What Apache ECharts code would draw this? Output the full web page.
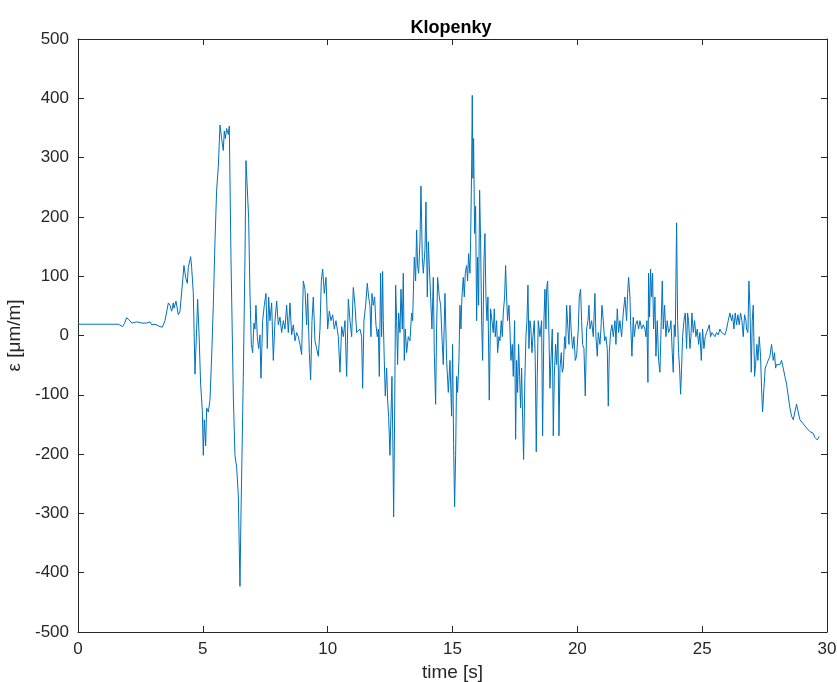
<!DOCTYPE html>
<html>
<head>
<meta charset="utf-8">
<script src="https://cdn.jsdelivr.net/npm/echarts@6/dist/echarts.min.js"></script>
<style>
html,body{margin:0;padding:0;background:#fff;}
#chart{width:837px;height:682px;}
</style>
</head>
<body>
<div id="chart"></div>
<script>
const chartTitle = "Klopenky";
const xAxisName = "time [s]";
const yAxisName = "ε [μm/m]";
const xTicks = [0, 5, 10, 15, 20, 25, 30];
const yTicks = [-500, -400, -300, -200, -100, 0, 100, 200, 300, 400, 500];

const times = [
0,1.616,1.683,1.789,1.856,1.950,2.056,2.150,2.350,2.550,2.751,2.884,2.951,3.085,3.285,3.378,3.485,3.619,3.685,3.752,
3.818,3.844,3.924,4.018,4.085,4.151,4.245,4.311,4.378,4.418,4.512,4.552,4.619,4.685,4.752,4.792,4.846,4.912,4.979,5.019,
5.059,5.113,5.153,5.220,5.286,5.353,5.420,5.486,5.553,5.620,5.687,5.753,5.820,5.860,5.900,5.954,6.020,6.060,6.127,6.221,
6.287,6.354,6.421,6.488,6.528,6.621,6.688,6.728,6.781,6.835,6.888,6.942,6.995,7.048,7.088,7.128,7.182,7.235,7.289,7.329,
7.396,7.462,7.529,7.583,7.636,7.689,
7.756,7.823,7.890,7.957,8.023,8.090,8.157,8.224,8.290,8.357,8.424,8.491,8.557,8.624,8.691,8.758,8.824,8.891,8.958,9.025,
9.091,9.158,9.198,9.265,9.318,9.372,9.425,9.492,9.559,9.626,9.692,9.746,9.799,9.866,9.933,10.000,10.066,10.133,10.200,10.266,
10.333,10.427,10.493,10.560,10.627,10.694,10.760,10.827,10.894,10.961,11.027,11.094,11.161,
11.227,11.294,11.360,11.400,11.454,11.521,11.587,11.641,11.694,11.734,11.774,11.828,11.881,11.934,11.988,12.028,12.068,12.121,12.161,12.201,
12.228,12.268,12.308,12.362,12.402,12.442,12.495,12.535,12.575,12.615,12.642,12.682,12.722,12.762,12.802,12.842,12.896,12.936,12.989,13.029,
13.069,13.109,13.163,13.229,13.296,13.363,13.403,13.470,13.523,13.563,13.603,13.643,13.697,13.737,13.790,13.830,13.897,13.937,13.991,14.031,
14.071,14.124,14.177,14.231,14.271,14.324,14.364,14.404,14.471,14.525,14.578,14.631,14.698,14.765,14.832,14.898,
14.964,15.004,15.044,15.084,15.125,15.165,15.205,15.258,15.298,15.338,15.378,15.432,15.472,15.512,15.565,15.605,15.645,15.699,15.725,15.765,
15.792,15.819,15.845,15.885,15.926,15.966,16.006,16.046,16.086,16.126,16.166,16.206,16.259,16.299,16.339,16.380,16.420,16.473,16.526,16.580,
16.633,16.673,16.713,16.767,16.807,16.860,16.900,16.954,16.994,17.034,17.087,17.127,17.167,17.207,17.261,17.301,17.341,17.394,17.434,17.488,
17.528,17.568,17.608,17.648,17.688,17.728,17.768,17.808,17.848,17.901,17.941,17.982,18.022,18.062,18.102,18.142,18.182,18.222,18.275,18.315,
18.355,18.395,18.435,18.502,
18.569,18.609,18.663,18.703,18.743,18.770,18.810,18.850,18.903,18.943,18.997,19.037,19.077,19.130,19.170,19.224,19.264,19.304,19.357,19.397,
19.437,19.491,19.531,19.571,19.624,19.664,19.704,19.758,19.811,19.864,19.918,19.971,20.038,20.078,20.131,20.171,20.211,20.265,20.318,20.372,
20.425,20.465,20.505,20.572,20.639,20.705,20.745,20.799,20.839,20.906,20.946,20.986,21.039,21.093,21.146,21.199,21.239,21.280,21.333,21.386,
21.440,21.507,21.546,21.600,21.653,21.707,21.773,21.840,21.907,21.974,22.014,22.054,22.107,
22.133,22.187,22.240,22.280,22.334,22.400,22.454,22.507,22.574,22.641,22.707,22.747,22.787,22.827,22.854,22.894,22.934,22.974,23.014,23.054,
23.108,23.148,23.201,23.255,23.308,23.362,23.402,23.442,23.495,23.548,23.602,23.655,23.709,23.749,23.802,23.842,23.882,23.922,23.976,24.016,
24.056,24.096,24.136,24.176,24.216,24.270,24.323,24.376,24.416,24.456,24.510,24.550,24.590,24.643,24.697,24.750,24.804,24.857,24.910,24.964,
25.017,25.071,25.124,25.177,25.231,25.284,25.337,25.391,25.444,25.511,25.578,25.645,25.711,
25.777,25.844,25.911,25.978,26.044,26.111,26.178,26.218,26.271,26.325,26.378,26.431,26.485,26.538,26.592,26.645,26.698,26.752,26.778,26.832,
26.872,26.912,26.966,27.006,27.046,27.099,27.139,27.193,27.233,27.286,27.339,27.379,27.420,27.473,27.526,27.580,27.646,27.713,27.780,27.847,
27.900,27.940,27.980,28.047,28.114,28.180,28.247,28.314,28.381,28.447,28.514,28.581,28.648,28.714,28.781,28.848,28.915,28.981,29.048,29.115,
29.182,29.248,29.315,29.382,29.449,29.515,29.609,29.689
];

const strain = [
19,19,17,15,20,30,26,21,23,21,21,23,18,19,15,14,25,55,51,41,
55,46,58,35,41,39,118,98,88,115,133,115,71,-65,11,61,5,-82,-126,-202,
-142,-186,-122,-129,-109,-35,51,158,245,285,355,332,312,345,332,349,339,353,132,-102,
-202,-222,-269,-423,-303,-69,132,295,292,198,71,-15,-29,21,11,51,-2,-22,1,-72,
25,51,71,-22,65,25,
55,-42,25,58,18,31,5,25,11,51,5,55,1,18,-9,5,-2,-15,-32,92,
78,18,71,-29,-75,25,65,-9,-22,-35,11,92,112,71,98,11,41,25,35,11,
25,-2,-62,15,-2,25,-69,61,25,-2,81,51,5,
5,11,-2,-89,25,51,88,65,51,-2,71,51,65,18,-2,11,-69,105,-2,108,
25,-42,-102,-55,-109,-136,-202,-136,-69,-196,-306,-136,85,25,-49,38,5,78,11,105,
-42,11,-29,-2,-9,38,25,132,92,178,118,105,158,252,132,105,145,225,65,158,
118,65,11,98,-29,-116,11,98,65,51,-2,-49,71,-42,-96,-42,
-136,-15,-182,-289,-202,-69,-96,-42,51,11,65,98,65,105,118,92,138,105,158,279,
405,265,332,172,218,25,132,51,245,158,25,-42,125,172,65,25,65,-109,45,25,
5,45,-2,25,-29,-2,-9,25,-2,38,65,118,65,25,51,11,-42,-15,-69,25,
-175,-42,-96,-15,-69,-122,-55,-136,-209,-69,-2,25,85,-22,25,11,-29,-2,25,-42,
-196,-69,25,-2,
25,-169,25,78,11,78,92,31,-89,-42,11,-169,-69,-15,-49,5,-169,-55,-29,-62,
-55,-2,-22,51,11,-15,51,5,-22,-2,-42,-35,11,65,78,25,-15,-22,-102,11,
25,51,11,25,-2,71,-2,-35,5,-15,11,51,25,-9,-2,-22,-119,-29,5,18,
-2,25,-15,45,5,25,-2,38,65,25,71,98,65,
25,-35,31,-2,18,25,11,25,11,18,11,-2,25,-79,105,31,112,65,105,11,
65,-35,25,-42,-62,25,92,11,51,-2,25,5,11,25,-29,-62,18,-2,190,25,
-29,-55,-99,-55,-2,25,38,-22,38,25,-22,-2,38,5,25,-2,11,-15,5,-42,
11,-22,-2,5,11,18,-2,5,8,-2,5,1,11,
5,8,1,11,25,38,25,35,11,38,18,35,18,38,25,-2,35,25,11,5,
92,51,-62,25,51,-69,-49,-15,-42,-2,-35,-89,-129,-89,-55,-49,-42,-35,-15,-42,
-29,-55,-49,-49,-49,-42,-55,-69,-82,-102,-122,-136,-142,-129,-116,-129,-142,-142,-149,-149,
-156,-156,-162,-165,-165,-172,-176,-170
];

const seriesData = times.map((t, i) => [t, strain[i]]);

const textColor = '#262626';
const fontFam = 'Helvetica, "Liberation Sans", Arial, sans-serif';

function frameAxis(extra) {
  return Object.assign({
    type: 'value',
    axisLine: {show: true, onZero: false, lineStyle: {color: textColor, width: 1}},
    axisTick: {show: true, inside: true, length: 6, lineStyle: {color: textColor, width: 1}},
    splitLine: {show: false}
  }, extra);
}

const chart = echarts.init(document.getElementById('chart'), null, {renderer: 'canvas'});
chart.setOption({
  animation: false,
  backgroundColor: '#ffffff',
  title: {
    text: chartTitle,
    left: 446, top: 14, textAlign: 'center',
    textStyle: {fontFamily: fontFam, fontWeight: 'bold', fontSize: 18, color: '#000'}
  },
  grid: {left: 78, right: 10, top: 39, bottom: 50, containLabel: false, outerBoundsMode: 'none'},
  xAxis: [
    frameAxis({
      min: 0, max: 30, interval: 5, position: 'bottom',
      name: xAxisName, nameLocation: 'middle', nameGap: 30,
      nameTextStyle: {fontFamily: fontFam, fontSize: 19, color: textColor},
      axisLabel: {fontFamily: fontFam, fontSize: 17, color: textColor, margin: 9,
        formatter: v => xTicks.includes(v) ? String(v) : ''}
    }),
    frameAxis({
      min: 0, max: 30, interval: 5, position: 'top',
      axisLabel: {show: false}
    })
  ],
  yAxis: [
    frameAxis({
      min: -500, max: 500, interval: 100, position: 'left',
      name: yAxisName, nameLocation: 'middle', nameGap: 48, nameRotate: 90,
      nameTextStyle: {fontFamily: fontFam, fontSize: 19, color: textColor},
      axisLabel: {fontFamily: fontFam, fontSize: 17, color: textColor, margin: 9,
        formatter: v => yTicks.includes(v) ? String(v) : ''}
    }),
    frameAxis({
      min: -500, max: 500, interval: 100, position: 'right',
      axisLabel: {show: false}
    })
  ],
  series: [{
    type: 'line',
    xAxisIndex: 0, yAxisIndex: 0,
    data: seriesData,
    showSymbol: false,
    symbol: 'none',
    lineStyle: {color: '#0072BD', width: 1},
    clip: true
  }]
});
</script>
</body>
</html>
